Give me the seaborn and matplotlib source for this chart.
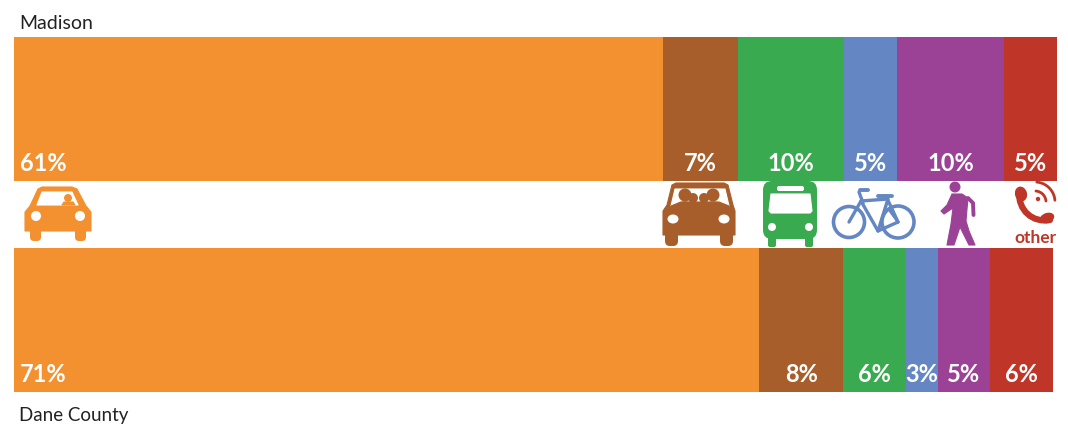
import numpy as np
import matplotlib
matplotlib.use("Agg")
import matplotlib.pyplot as plt
from matplotlib.patches import Circle, Polygon, FancyBboxPatch, Ellipse, PathPatch
from matplotlib.path import Path
import seaborn as sns

# Commute mode shares, in percent
modes = ["Drive alone", "Carpool", "Transit", "Bike", "Walk", "Other"]
madison_shares = [61, 7, 10, 5, 10, 5]
dane_shares = [71, 8, 6, 3, 5, 6]
row_names = ["Madison", "Dane County"]
mode_colors = ["#F39130", "#A85E2B", "#3AAA50", "#6487C3", "#9B4296", "#BF3628"]

sns.set_theme(style="white")
FONT = ["Lato", "DejaVu Sans"]
W, H = 1068, 427
fig = plt.figure(figsize=(W / 100, H / 100), dpi=100, facecolor="white")


def stacked_row(shares, name, x0, x1, y0, y1):
    ax = fig.add_axes([x0 / W, 1 - y1 / H, (x1 - x0) / W, (y1 - y0) / H])
    left = 0
    for i, (share, color) in enumerate(zip(shares, mode_colors)):
        sns.barplot(x=[share], y=[name], left=left, color=color, width=1,
                    saturation=1, linewidth=0, ax=ax)
        # The widest segment carries its label at the left edge, the others centred
        first = i == 0
        ax.text(6 * sum(shares) / (x1 - x0) if first else left + share / 2, 0.077,
                f"{share}%", transform=ax.get_xaxis_transform(), color="white",
                fontsize=17, fontweight="bold", family=FONT,
                ha="left" if first else "center", va="baseline")
        left += share
    ax.set_xlim(0, sum(shares))
    ax.set_ylim(0.5, -0.5)
    ax.axis("off")


stacked_row(madison_shares, row_names[0], 14, 1057, 37.6, 181.6)
stacked_row(dane_shares, row_names[1], 14, 1053, 248.6, 392.6)

# Overlay in pixel units for the row captions and the pictograms
ov = fig.add_axes([0, 0, 1, 1], zorder=5)
ov.set_xlim(0, W)
ov.set_ylim(H, 0)
ov.axis("off")
ov.patch.set_alpha(0)

ov.text(19, 29, row_names[0], color="#222222", fontsize=14, family=FONT, va="baseline")
ov.text(19, 421, row_names[1], color="#222222", fontsize=13.5, family=FONT, va="baseline")


def fill(points, color):
    ov.add_patch(Polygon(points, closed=True, fc=color, ec=color, lw=0.8, joinstyle="round"))


def disc(x, y, r, color):
    ov.add_patch(Circle((x, y), r, fc=color, ec="none"))


def round_box(x0, y0, x1, y1, r, color):
    ov.add_patch(FancyBboxPatch((x0 + r, y0 + r), x1 - x0 - 2 * r, y1 - y0 - 2 * r,
                                boxstyle=f"round,pad={r},rounding_size={r}",
                                fc=color, ec="none"))


def stroke(points, color, lw):
    xs, ys = zip(*points)
    ov.plot(xs, ys, color=color, lw=lw, solid_capstyle="round", solid_joinstyle="round")


# Single-occupant car
c = mode_colors[0]
fill([(38, 190), (42, 188), (72, 188), (77, 190), (86, 207), (91, 213), (91, 232),
      (25, 232), (25, 213), (30, 207)], c)
round_box(30, 226, 41, 242, 4, c)
round_box(75, 226, 86, 242, 4, c)
fill([(42, 193), (72, 193), (78, 206), (37, 206)], "white")
disc(68, 199, 4, c)
fill([(62, 206), (64, 203), (73, 203), (75, 206)], c)
disc(36, 217, 5, "white")
disc(80, 217, 5, "white")

# Carpool car with four occupants
c = mode_colors[1]
fill([(672, 186), (676, 184), (724, 184), (728, 186), (733, 206), (735, 212), (735, 236),
      (663, 236), (663, 212), (667, 206)], c)
round_box(665, 226, 678, 247, 5, c)
round_box(720, 226, 733, 247, 5, c)
fill([(675, 190), (725, 190), (729, 207), (671, 207)], "white")
for x, y, r in [(693, 199, 5), (704, 199, 5), (685, 196, 6.5), (713, 196, 6.5)]:
    disc(x, y, r, c)
    ov.add_patch(Ellipse((x, y + r + 4.5), r * 3, r * 1.4, fc=c, ec="none"))
fill([(671, 207), (681, 203), (719, 203), (729, 207), (729, 210), (671, 210)], c)
ov.add_patch(Ellipse((673, 220), 11, 9, fc="white", ec="none"))
ov.add_patch(Ellipse((724, 220), 11, 9, fc="white", ec="none"))

# Bus
c = mode_colors[2]
round_box(763, 182, 817, 240, 9, c)
round_box(768, 234, 776, 248, 2, c)
round_box(805, 234, 813, 248, 2, c)
round_box(777, 187, 804, 192, 2, "white")
fill([(771, 195), (810, 195), (812, 212), (810, 214), (771, 214), (769, 212)], "white")
disc(772, 228, 4, "white")
disc(809, 228, 4, "white")

# Bicycle
c = mode_colors[3]
ov.add_patch(Circle((849, 223), 15.5, fc="none", ec=c, lw=2.6))
ov.add_patch(Circle((898, 223), 16, fc="none", ec=c, lw=2.6))
stroke([(849, 223), (861, 202), (878, 232), (898, 223)], c, 2.4)
stroke([(861, 202), (888, 200), (878, 232)], c, 2.4)
stroke([(859, 193), (863, 204)], c, 2.4)
stroke([(860, 191), (868, 191)], c, 2.8)
stroke([(886, 197), (898, 223)], c, 2.4)
stroke([(878, 197), (892, 197)], c, 2.8)
stroke([(890, 212), (898, 223)], c, 2)

# Pedestrian
c = mode_colors[4]
disc(955, 188, 5.5, c)
fill([(952, 195), (962, 195), (968, 199), (967, 210), (966, 222), (969, 232), (975, 246),
      (969, 246), (960, 228), (954, 246), (947, 246), (951, 225), (953, 209), (944, 215),
      (941, 212), (947, 206)], c)
stroke([(968, 199), (973, 204), (973.5, 216)], c, 2.8)

# Phone with signal waves and its caption
c = mode_colors[5]
handset = Path([(1019, 192), (1018, 212), (1033, 224), (1050, 221)],
               [Path.MOVETO, Path.CURVE4, Path.CURVE4, Path.CURVE4])
ov.add_patch(PathPatch(handset, fc="none", ec=c, lw=4.5, capstyle="round"))
ov.add_patch(Ellipse((1021, 195), 12, 15, angle=-15, fc=c, ec="none"))
ov.add_patch(Ellipse((1047, 219), 15, 10, angle=-20, fc=c, ec="none"))
for r in (11, 20):
    a = np.radians(np.linspace(-85, -5, 24))
    stroke(list(zip(1035 + r * np.cos(a), 203 + r * np.sin(a))), c, 2.0)
disc(1038, 200, 2.2, c)
ov.text(1035.5, 243, "other", color=c, fontsize=12.5, fontweight="bold", family=FONT,
        ha="center", va="baseline")

fig.savefig("out.png", dpi=100, facecolor="white")
